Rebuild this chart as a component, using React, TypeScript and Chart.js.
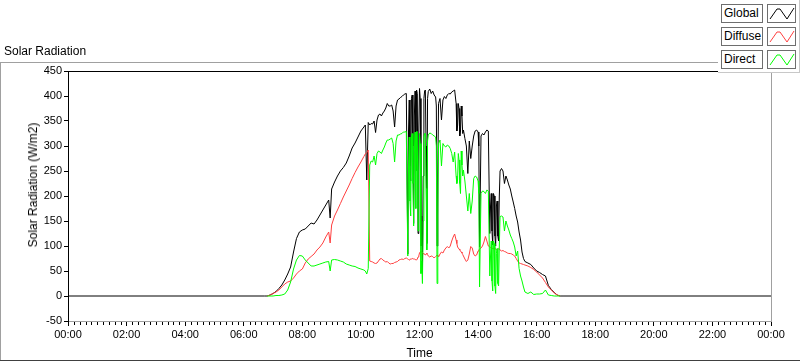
import React, { useEffect, useRef } from "react";
import { Chart, registerables } from "chart.js";

Chart.register(...registerables);

// ---- data (hours of day, W/m2) ----
const times = [
  0, 6.7, 6.8, 6.9, 7.0, 7.1, 7.2, 7.3, 7.4, 7.5, 7.6, 7.7, 7.8, 7.9,
  8.0, 8.1, 8.2, 8.3, 8.4, 8.5, 8.6, 8.7, 8.8, 8.9, 8.95, 9.0, 9.1, 9.2,
  9.3, 9.4, 9.5, 9.6, 9.7, 9.8, 9.9, 10.0, 10.1, 10.15, 10.2, 10.25,
  10.3, 10.35, 10.4, 10.45, 10.5, 10.55, 10.6, 10.65, 10.7, 10.75, 10.8, 10.85,
  10.9, 10.95, 11.0, 11.05, 11.1, 11.15, 11.2, 11.25, 11.3, 11.35, 11.4,
  11.45, 11.5, 11.55,
  11.6, 11.625, 11.65, 11.675, 11.7, 11.725, 11.75, 11.775, 11.8, 11.825,
  11.85, 11.875, 11.9, 11.925, 11.95, 11.975, 12.0, 12.025, 12.05, 12.075,
  12.1, 12.125, 12.15, 12.175, 12.2, 12.225, 12.25, 12.275, 12.3, 12.35,
  12.4, 12.45, 12.5, 12.55, 12.575, 12.6, 12.625, 12.65,
  12.7, 12.75, 12.8, 12.85, 12.9, 12.95, 13.0, 13.05, 13.1, 13.15, 13.2,
  13.25, 13.275, 13.3, 13.325, 13.35, 13.375, 13.4, 13.425, 13.45, 13.475,
  13.5, 13.55, 13.6, 13.65, 13.7, 13.75, 13.8, 13.85, 13.9, 13.95, 14.0,
  14.025, 14.05, 14.1, 14.15, 14.2, 14.25, 14.3, 14.35,
  14.4, 14.425, 14.45, 14.475, 14.5, 14.525, 14.55, 14.575, 14.6, 14.625,
  14.65, 14.675, 14.7, 14.725,
  14.75, 14.8, 14.85, 14.9, 14.95, 15.0, 15.05, 15.1, 15.15, 15.2, 15.25,
  15.3, 15.35, 15.4, 15.45, 15.5, 15.55, 15.6, 15.7, 15.8, 15.9, 16.0,
  16.1, 16.2, 16.3, 16.4, 16.5, 16.6, 16.7, 16.8, 16.9, 24,
];

const globalVals = [
  0, 0, 0, 2, 5, 9, 15, 22, 32, 44, 58, 88, 115, 128,
  132, 134, 140, 146, 144, 152, 162, 172, 182, 192, 156, 214, 228, 240,
  250, 257, 266, 280, 296, 306, 318, 330, 338, 342, 232, 347,
  342, 345, 344, 350, 327, 352, 362, 364, 360, 366, 370, 376,
  385, 380, 380, 382, 370, 338, 380, 392, 394, 397, 399,
  402, 404, 405,
  84, 330, 392, 260, 230, 395, 402, 300, 145, 360,
  410, 250, 412, 405, 125, 330, 415, 395, 100, 160,
  45, 240, 395, 410, 412, 300, 105, 395, 409, 414,
  405, 410, 402, 398, 380, 100, 240, 385,
  395, 352, 392, 399, 395, 402, 405, 404, 408, 410, 412,
  385, 330, 340, 385, 375, 320, 330, 380, 360, 325,
  332, 315, 300, 245, 310, 275, 300, 320, 330, 332, 328,
  300, 98, 320, 325, 322, 328, 332, 330,
  125, 180, 205, 130, 102, 205, 200, 120, 100, 180,
  190, 120, 110, 200,
  250, 255, 250, 225, 240, 232, 222, 214, 200, 188, 175,
  160, 148, 128, 112, 88, 75, 69, 66, 63, 56, 50,
  47, 43, 40, 21, 13, 7, 2, 0, 0, 0,
];

const diffuseVals = [
  null, null, 0, 2, 5, 8, 12, 18, 24, 28, 30, 36, 44, 50,
  54, 66, 74, 79, 84, 92, 98, 106, 118, 128, 106, 142, 160, 172,
  185, 198, 210, 222, 235, 247, 258, 268, 279, 284, 287, 292,
  70, 69, 68, 66, 65, 66, 70, 74, 75, 72, 70, 68,
  69, 66, 64, 65, 65, 67, 68, 69, 72, 73, 74,
  73, 75, 76,
  74, 73, 72, 73, 74, 74, 75, 75, 74, 74,
  73, 73, 72, 74, 78, 80, 86, 88, 90, 88,
  86, 85, 84, 83, 82, 84, 86, 83, 80, 78,
  80, 79, 76, 79, 80, 82, 80, 78,
  84, 88, 86, 92, 96, 99, 96, 100, 110, 118, 124,
  112, 105, 98, 96, 94, 92, 90, 88, 86, 83,
  80, 74, 69, 72, 84, 99, 96, 84, 80, 82, 90,
  92, 94, 96, 100, 108, 119, 110, 100,
  98, 97, 96, 95, 95, 95, 96, 95, 94, 93,
  92, 93, 95, 94,
  92, 90, 91, 89, 88, 86, 85, 85, 84, 82, 80,
  75, 70, 66, 65, 64, 63, 62, 60, 57, 53, 48,
  42, 36, 27, 18, 12, 6, 2, 0, null, null,
];

const directVals = [
  null, null, 0, 0, 0, 1, 1, 2, 4, 12, 28, 54, 72, 81,
  80, 72, 66, 60, 60, 62, 64, 66, 68, 69, 50, 72, 73, 72,
  70, 68, 64, 62, 60, 59, 56, 54, 52, 50, 44, 55,
  262, 270, 268, 280, 262, 285, 290, 288, 285, 292, 298, 306,
  312, 312, 314, 316, 305, 268, 310, 322, 322, 324, 325,
  328, 328, 329,
  80, 260, 318, 190, 160, 318, 325, 225, 140, 285,
  328, 175, 329, 329, 130, 250, 325, 305, 45, 70,
  25, 150, 318, 325, 325, 215, 92, 310, 322, 326,
  325, 322, 320, 318, 300, 25, 160, 305,
  312, 260, 305, 300, 298, 302, 300, 295, 285, 268, 288,
  240, 225, 232, 285, 272, 225, 205, 290, 262, 240,
  252, 230, 200, 170, 205, 165, 190, 235, 240, 238, 230,
  205, 18, 205, 210, 209, 205, 212, 210,
  40, 80, 110, 30, 10, 110, 105, 20, 5, 85,
  95, 25, 20, 100,
  159, 160, 158, 130, 150, 140, 132, 122, 115, 108, 98,
  80, 90, 55, 40, 30, 18, 8, 5, 8, 3, 4,
  4, 5, 12, 2, 1, 0, 0, 0, null, null,
];

const xTickLabels = [
  "00:00", "02:00", "04:00", "06:00", "08:00", "10:00", "12:00",
  "14:00", "16:00", "18:00", "20:00", "22:00", "00:00",
];

const seriesNames = ["Global", "Diffuse", "Direct"];
const seriesColors = ["#000000", "#ff4040", "#00ff00"];

const FONT = "'Liberation Sans', Arial, sans-serif";

function toPoints(vals: (number | null)[]) {
  return times.map((t, i) => ({ x: t, y: vals[i] }));
}

const framePlugin = {
  id: "labviewFrame",
  beforeDraw(chart: any) {
    const ctx = chart.ctx;
    ctx.save();
    ctx.fillStyle = "#ffffff";
    ctx.fillRect(0, 0, chart.width, chart.height);
    ctx.restore();
  },
  afterDraw(chart: any) {
    const ctx = chart.ctx;
    const { left, right, top, bottom } = chart.chartArea;
    ctx.save();
    ctx.lineWidth = 1;
    // plot top border (black)
    ctx.strokeStyle = "#000000";
    ctx.beginPath();
    ctx.moveTo(left, top + 0.5);
    ctx.lineTo(right + 1, top + 0.5);
    ctx.stroke();
    // plot right border (grey)
    ctx.strokeStyle = "#a0a0a0";
    ctx.beginPath();
    ctx.moveTo(right + 0.5, top);
    ctx.lineTo(right + 0.5, bottom + 1);
    ctx.stroke();
    // minor ticks on the time axis
    const xs = chart.scales.x;
    ctx.strokeStyle = "#000000";
    ctx.beginPath();
    for (let i = 0; i <= 120; i++) {
      if (i % 10 === 0) continue;
      const px = Math.round(xs.getPixelForValue(i * 0.2)) + 0.5;
      ctx.moveTo(px, bottom + 1);
      ctx.lineTo(px, bottom + 4);
    }
    ctx.stroke();
    // outer frame of the graph
    ctx.strokeStyle = "#a0a0a0";
    ctx.beginPath();
    ctx.moveTo(0, 62.5);
    ctx.lineTo(718, 62.5);
    ctx.moveTo(718.5, 62);
    ctx.lineTo(718.5, 72);
    ctx.moveTo(0.5, 62);
    ctx.lineTo(0.5, chart.height);
    ctx.stroke();
    ctx.strokeStyle = "#404040";
    ctx.beginPath();
    ctx.moveTo(0, chart.height - 0.5);
    ctx.lineTo(chart.width, chart.height - 0.5);
    ctx.stroke();
    ctx.restore();
  },
};

function Swatch({ color }: { color: string }) {
  return (
    <svg width="27" height="17" style={{ display: "block" }}>
      <polyline
        points="2,14 9,4 12,4 19,14 26,3"
        fill="none"
        stroke={color}
        strokeWidth="1"
      />
    </svg>
  );
}

export default function App() {
  const canvasRef = useRef<HTMLCanvasElement | null>(null);

  useEffect(() => {
    if (!canvasRef.current) return;
    const datasets = [globalVals, diffuseVals, directVals].map((vals, i) => ({
      label: seriesNames[i],
      data: toPoints(vals),
      borderColor: seriesColors[i],
      backgroundColor: seriesColors[i],
      borderWidth: 1,
      pointRadius: 0,
      tension: 0,
      fill: false,
      spanGaps: false,
      order: 3 - i,
    }));

    const chart = new Chart(canvasRef.current, {
      type: "line",
      data: { datasets },
      plugins: [framePlugin],
      options: {
        animation: false,
        responsive: false,
        maintainAspectRatio: false,
        layout: { padding: { left: 0, right: 29, top: 71, bottom: 0 } },
        plugins: {
          legend: { display: false },
          tooltip: { enabled: false },
          title: { display: false },
        },
        scales: {
          x: {
            type: "linear",
            min: 0,
            max: 24,
            afterFit: (scale: any) => {
              scale.height = 40;
            },
            ticks: {
              stepSize: 2,
              autoSkip: false,
              maxRotation: 0,
              padding: 2,
              color: "#000000",
              font: { family: FONT, size: 11 },
              callback: (value: any) => xTickLabels[Math.round(Number(value) / 2)],
            },
            grid: {
              drawOnChartArea: false,
              drawTicks: true,
              tickLength: 5,
              tickColor: "#000000",
            },
            border: { display: true, color: "#a0a0a0" },
            title: {
              display: true,
              text: "Time",
              color: "#000000",
              font: { family: FONT, size: 12 },
              padding: { top: 0, bottom: 0 },
            },
          },
          y: {
            type: "linear",
            min: -50,
            max: 450,
            afterFit: (scale: any) => {
              scale.width = 68;
            },
            ticks: {
              stepSize: 50,
              padding: 2,
              color: "#000000",
              font: { family: FONT, size: 11 },
            },
            grid: {
              drawOnChartArea: false,
              drawTicks: true,
              tickLength: 4,
              tickColor: "#000000",
            },
            border: { display: true, color: "#000000" },
          },
        },
      },
    });
    return () => chart.destroy();
  }, []);

  const labelBox: React.CSSProperties = {
    position: "absolute",
    left: 3,
    width: 42,
    height: 19,
    boxSizing: "border-box",
    border: "1px solid #6e6e6e",
    background: "#ffffff",
    font: `12px ${FONT}`,
    lineHeight: "17px",
    paddingLeft: 2,
    color: "#000000",
    whiteSpace: "nowrap",
  };
  const swatchBox: React.CSSProperties = {
    position: "absolute",
    left: 49,
    width: 29,
    height: 19,
    boxSizing: "border-box",
    border: "1px solid #6e6e6e",
    background: "#ffffff",
  };

  return (
    <div style={{ position: "absolute", left: 0, top: 0, width: 800, height: 361, background: "#ffffff" }}>
      <canvas ref={canvasRef} width={800} height={361} style={{ display: "block", position: "absolute", left: 0, top: 0 }} />
      <div
        style={{
          position: "absolute",
          left: 4,
          top: 44,
          font: `12px ${FONT}`,
          color: "#000000",
          whiteSpace: "nowrap",
        }}
      >
        Solar Radiation
      </div>
      <div
        style={{
          position: "absolute",
          left: 33,
          top: 185,
          transform: "translate(-50%, -50%) rotate(-90deg)",
          font: `12px ${FONT}`,
          color: "#000000",
          whiteSpace: "nowrap",
        }}
      >
        Solar Radiation (W/m2)
      </div>
      <div
        style={{
          position: "absolute",
          left: 718,
          top: 0,
          width: 82,
          height: 73,
          boxSizing: "border-box",
          background: "#ffffff",
          borderRight: "1px solid #c8c8c8",
          borderBottom: "1px solid #c8c8c8",
        }}
      >
        {seriesNames.map((name, i) => (
          <React.Fragment key={name}>
            <div style={{ ...labelBox, top: 4 + i * 23 }}>{name}</div>
            <div style={{ ...swatchBox, top: 4 + i * 23 }}>
              <Swatch color={seriesColors[i]} />
            </div>
          </React.Fragment>
        ))}
      </div>
    </div>
  );
}
